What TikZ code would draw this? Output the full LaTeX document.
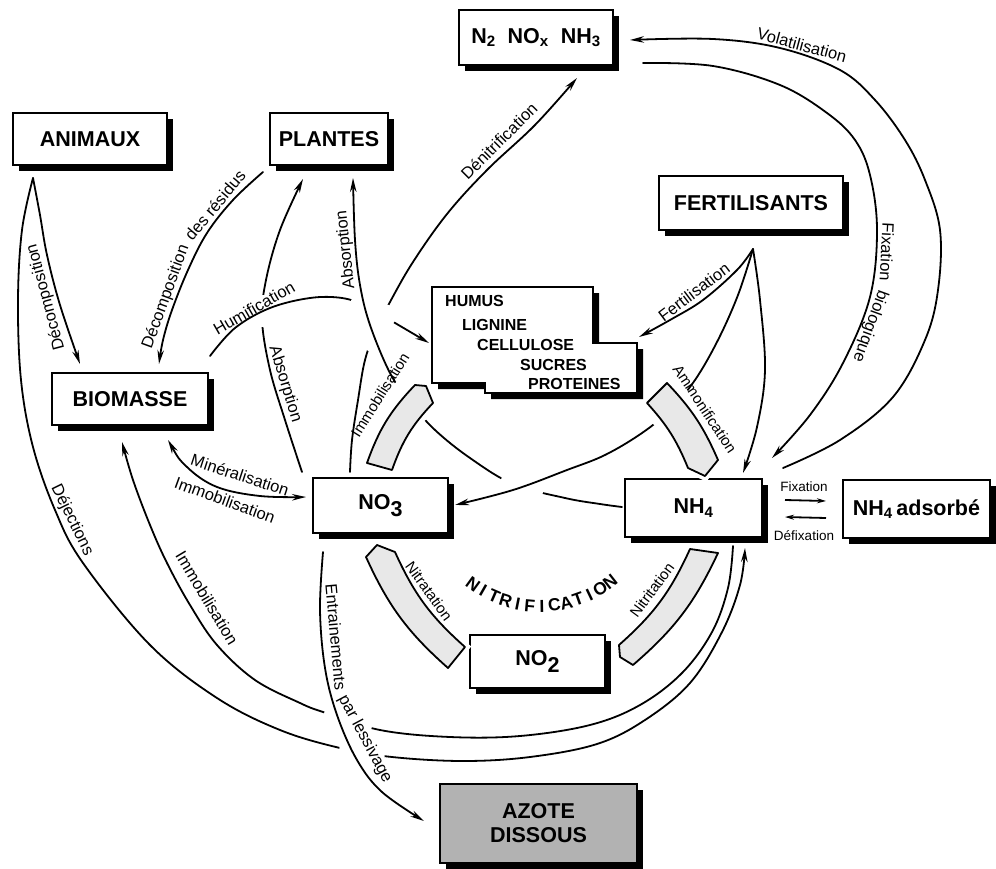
\documentclass[tikz,border=0pt]{standalone}
\usepackage{fontspec}
\setmainfont{Liberation Sans}
\usetikzlibrary{arrows.meta,shadows}
\newcommand\azBox{\fontsize{21.5}{24}\selectfont\bfseries}
\newcommand\azHum{\fontsize{16}{18}\selectfont\bfseries}
\newcommand\azLab{\fontsize{16.5}{18}\selectfont}
\newcommand\azBand{\fontsize{15}{17}\selectfont}
\newcommand\azSmall{\fontsize{13.5}{15}\selectfont}
\newcommand\azNit{\fontsize{17.5}{19}\selectfont\bfseries}
\begin{document}
\begin{tikzpicture}[x=1pt,y=-1pt,
  box/.style={draw, line width=2pt, fill=white, inner sep=0pt, font=\azBox,
    drop shadow={shadow xshift=6pt, shadow yshift=-6pt, fill=black, opacity=1}},
  conn/.style={line width=1.8pt, line cap=round, line join=round},
  arr/.style={conn, -{Stealth[length=14pt, width=6.5pt]}},
  darr/.style={conn, {Stealth[length=14pt, width=6.5pt]}-{Stealth[length=14pt, width=6.5pt]}},
  sarr/.style={line width=1.8pt, -{Stealth[length=9pt, width=5pt]}},
  band/.style={draw, line width=1.8pt, fill=black!9, line join=round,
    preaction={draw=white, line width=9pt}},
  lab/.style={font=\azLab, inner sep=0pt},
  blab/.style={font=\azBand, inner sep=0pt},
  hole/.style={fill=white}
]
\useasboundingbox (0,0) rectangle (996,869);

% ---------- boxes ----------
\node[box, minimum width=154pt, minimum height=55pt] (gas) at (536,37.5)
  {N\textsubscript{2}\hspace{12pt}NO\textsubscript{x}\hspace{12pt}NH\textsubscript{3}};
\node[box, minimum width=154pt, minimum height=52pt] (animaux) at (90,139) {ANIMAUX};
\node[box, minimum width=118pt, minimum height=52pt] (plantes) at (329,139) {PLANTES};
\node[box, minimum width=184pt, minimum height=54pt] (fertil) at (751,203) {FERTILISANTS};
\node[box, minimum width=156pt, minimum height=52pt] (biomasse) at (130,399) {BIOMASSE};
\node[box, minimum width=135pt, minimum height=55pt] (no3) at (380.5,505.5) {NO\raisebox{-7pt}{3}};
\node[box, minimum width=137pt, minimum height=58pt] (nh4) at (693.5,508) {NH\textsubscript{4}};
\node[box, minimum width=147pt, minimum height=58pt] (nh4ads) at (916.5,509) {NH\textsubscript{4}\,adsorbé};
\node[box, minimum width=135pt, minimum height=53pt] (no2) at (537.5,661.5) {NO\raisebox{-7pt}{2}};
\node[box, fill=black!30, align=center, minimum width=197pt, minimum height=79pt] (azote) at (538.5,823.5) {AZOTE\\DISSOUS};

% HUMUS block
\fill[black] (438,293) -- (599,293) -- (599,349) -- (643,349) -- (643,399) -- (491,399) -- (491,389) -- (438,389) -- cycle;
\draw[line width=2pt, fill=white, line join=miter] (432,287) -- (593,287) -- (593,343) -- (637,343) -- (637,393) -- (485,393) -- (485,383) -- (432,383) -- cycle;
\node[anchor=base west, font=\azHum, inner sep=0pt] (humus) at (445,306) {HUMUS};
\node[anchor=base west, font=\azHum, inner sep=0pt] (lignine) at (462,330) {LIGNINE};
\node[anchor=base west, font=\azHum, inner sep=0pt] (cellulose) at (477,350) {CELLULOSE};
\node[anchor=base west, font=\azHum, inner sep=0pt] (sucres) at (520,370) {SUCRES};
\node[anchor=base west, font=\azHum, inner sep=0pt] (proteines) at (528,389) {PROTEINES};

% ---------- connector end points ----------
\coordinate (nh4vol) at (783,468);
\coordinate (gasvol) at (630,40);
\coordinate (gasfix) at (643,63);
\coordinate (nh4fix) at (772,458);
\coordinate (no3den) at (350,472);
\coordinate (gasden) at (577,78);
\coordinate (nh4abs) at (622,507);
\coordinate (plaabs) at (353,178);
\coordinate (no3abs) at (302,472);
\coordinate (plaabsl) at (303,179);
\coordinate (biohum) at (210,356);
\coordinate (humhum) at (429,343);
\coordinate (pladec) at (263,172);
\coordinate (biodec) at (159,364);
\coordinate (anitop) at (33,178);
\coordinate (biodeca) at (80,364);
\coordinate (nh4dej) at (745,548);
\coordinate (nh4imm) at (733,546);
\coordinate (bioimm) at (122,442);
\coordinate (biomin) at (168,440);
\coordinate (no3min) at (306,497);
\coordinate (no3ent) at (323,552);
\coordinate (azoent) at (424,821);
\coordinate (fert) at (753,249);
\coordinate (humfert) at (639,337);
\coordinate (no3fert) at (455,505);
\coordinate (nh4fert) at (743,473);

% ---------- connectors (lines that are broken first) ----------
\draw[arr] plot[smooth, tension=0.6] coordinates {(no3abs) (285,420) (270,370) (262,320) (266,280) (280,230) (plaabsl)};
\draw[arr] plot[smooth, tension=0.6] coordinates {(no3den) (352,440) (358,400) (365,360) (376,330) (390,302) (413,262) (447,214) (487,170) (535,125) (gasden)};
\draw[arr] plot[smooth, tension=0.6] coordinates {(anitop) (22,230) (18,300) (21,380) (33,447) (55,510) (83,563) (150,645) (217,698) (280,730) (340,748) (392,757) (463,761) (530,757) (597,744) (645,720) (690,683) (722,632) (740,585) (nh4dej)};
\draw[arr] plot[smooth, tension=0.6] coordinates {(nh4imm) (728,588) (712,632) (682,673) (640,705) (590,725) (520,736) (450,737) (380,730) (323,712) (300,703) (255,680) (217,645) (190,605) (167,563) (150,525) (133,480) (bioimm)};
\draw[arr] plot[smooth, tension=0.6] coordinates {(nh4vol) (840,440) (893,397) (925,340) (938,290) (940,230) (925,180) (905,140) (875,100) (840,70) (780,48) (713,39) (gasvol)};
\draw[arr] plot[smooth, tension=0.6] coordinates {(gasfix) (713,66) (780,85) (827,113) (855,140) (870,175) (877,230) (870,297) (843,363) (810,415) (nh4fix)};
\draw[arr] plot[smooth, tension=0.6] coordinates {(pladec) (233,200) (207,233) (188,270) (172,310) (163,340) (biodec)};
\draw[arr] plot[smooth, tension=0.6] coordinates {(anitop) (40,215) (47,255) (60,305) (biodeca)};
\draw[darr] plot[smooth, tension=0.6] coordinates {(biomin) (187,467) (217,487) (260,496) (no3min)};
\draw[arr] plot[smooth, tension=0.6] coordinates {(fert) (737,270) (703,300) (670,320) (humfert)};
\draw[arr] plot[smooth, tension=0.6] coordinates {(fert) (760,300) (765,370) (757,427) (nh4fert)};
\draw[sarr] ([xshift=22pt, yshift=8pt]nh4.east) -- ([xshift=-16pt, yshift=8pt]nh4ads.west);
\draw[sarr] ([xshift=-16pt, yshift=-9pt]nh4ads.west) -- ([xshift=22pt, yshift=-9pt]nh4.east);

% humification over absorption (left)
\fill[hole] (263,311) circle[radius=16pt];
\draw[arr] plot[smooth, tension=0.6] coordinates {(biohum) (235,328) (270,308) (310,298) (342,298) (366,306) (390,320) (humhum)};

% absorption (NH4) over humification and denitrification
\fill[hole] (365,306) circle[radius=15pt];
\fill[hole] (374,337) circle[radius=15pt];
\fill[hole] (384,316) circle[radius=12pt];
\draw[arr] plot[smooth, tension=0.6] coordinates {(nh4abs) (600,504) (565,498) (513,484) (470,458) (435,430) (410,402) (390,373) (370,325) (360,285) (355,240) (plaabs)};

% fertilisants -> NO3 over absorption
\fill[hole] (522,486) circle[radius=22pt];
\draw[arr] plot[smooth, tension=0.6] coordinates {(fert) (738,295) (718,340) (695,380) (670,410) (642,433) (605,455) (567,470) (513,490) (no3fert)};

% entrainements over dejections and immobilisation
\fill[hole] (362,752) circle[radius=23pt];
\fill[hole] (348,720) circle[radius=25pt];
\draw[arr] plot[smooth, tension=0.6] coordinates {(no3ent) (320,610) (325,668) (337,715) (357,760) (382,792) (azoent)};

% lines passing behind the upper bands
\fill[hole] (411,401) circle[radius=24pt];
\fill[hole] (670,407) circle[radius=24pt];

% ---------- process bands ----------
\draw[band] (367,463) to[bend left=12] (415,385) -- (426,386) -- (433,403) to[bend right=12] (392,470) -- cycle;
\draw[band] (718,460) to[bend right=10] (667,383) -- (647,403) to[bend left=10] (688,468) -- (705,476) -- cycle;
\draw[band] (448,668) to[bend left=12] (366,557) -- (377,545) -- (395,552) to[bend right=12] (465,647) -- cycle;
\draw[band] (718,553) to[bend left=12] (633,665) -- (620,657) -- (619,645) to[bend right=12] (690,549) -- cycle;

% ---------- connector labels ----------
\node[lab, rotate=-15] (lvol) at (802,45) {Volatilisation};
\node[lab, rotate=-93] (lfixa) at (887,252) {Fixation};
\node[lab, rotate=-110] (lfixb) at (870,326) {biologique};
\node[lab, rotate=45] (lden) at (499,141) {Dénitrification};
\node[lab, rotate=96] (labsr) at (346,250) {Absorption};
\node[lab, rotate=-73] (labsl) at (285,384) {Absorption};
\node[lab, rotate=30] (lhum) at (254,308) {Humification};
\node[lab, rotate=70] (ldra) at (166,297) {Décomposition};
\node[lab, rotate=50] (ldrb) at (215,205) {des résidus};
\node[lab, rotate=105] (ldeca) at (46,297) {Décomposition};
\node[lab, rotate=-64] (ldej) at (72,520) {Déjections};
\node[lab, rotate=-59] (limm) at (207,598) {Immobilisation};
\node[lab, rotate=-85] (lenta) at (336,637) {Entrainements};
\node[lab, rotate=-62] (lentb) at (365,739) {par lessivage};
\node[lab, rotate=-18] (lmin) at (240,475) {Minéralisation};
\node[lab, rotate=-20] (limmb) at (225,500) {Immobilisation};
\node[lab, rotate=37] (lfert) at (694,292) {Fertilisation};
\node[font=\azSmall, inner sep=0pt] (fixlab) at (804,487) {Fixation};
\node[font=\azSmall, inner sep=0pt] (defixlab) at (804,536) {Défixation};

% ---------- band labels ----------
\node[blab, rotate=58] (bimm) at (380,395) {Immobilisation};
\node[blab, rotate=-56.5] (bamm) at (705,409) {Ammonification};
\node[blab, rotate=-54] (bnitra) at (429,591) {Nitratation};
\node[blab, rotate=53.5] (bnitri) at (652,590) {Nitritation};

% ---------- NITRIFICATION along an arc ----------
\foreach \ch [count=\i from 0] in {N,I,T,R,I,F,I,C,A,T,I,O,N} {
  \pgfmathsetmacro\azAng{-36+\i*6.17}
  \node[font=\azNit, anchor=base, inner sep=0pt, rotate=\azAng] (nit\i)
    at ({540+120*sin(\azAng)}, {492+120*cos(\azAng)}) {\ch};
}
\end{tikzpicture}
\end{document}
